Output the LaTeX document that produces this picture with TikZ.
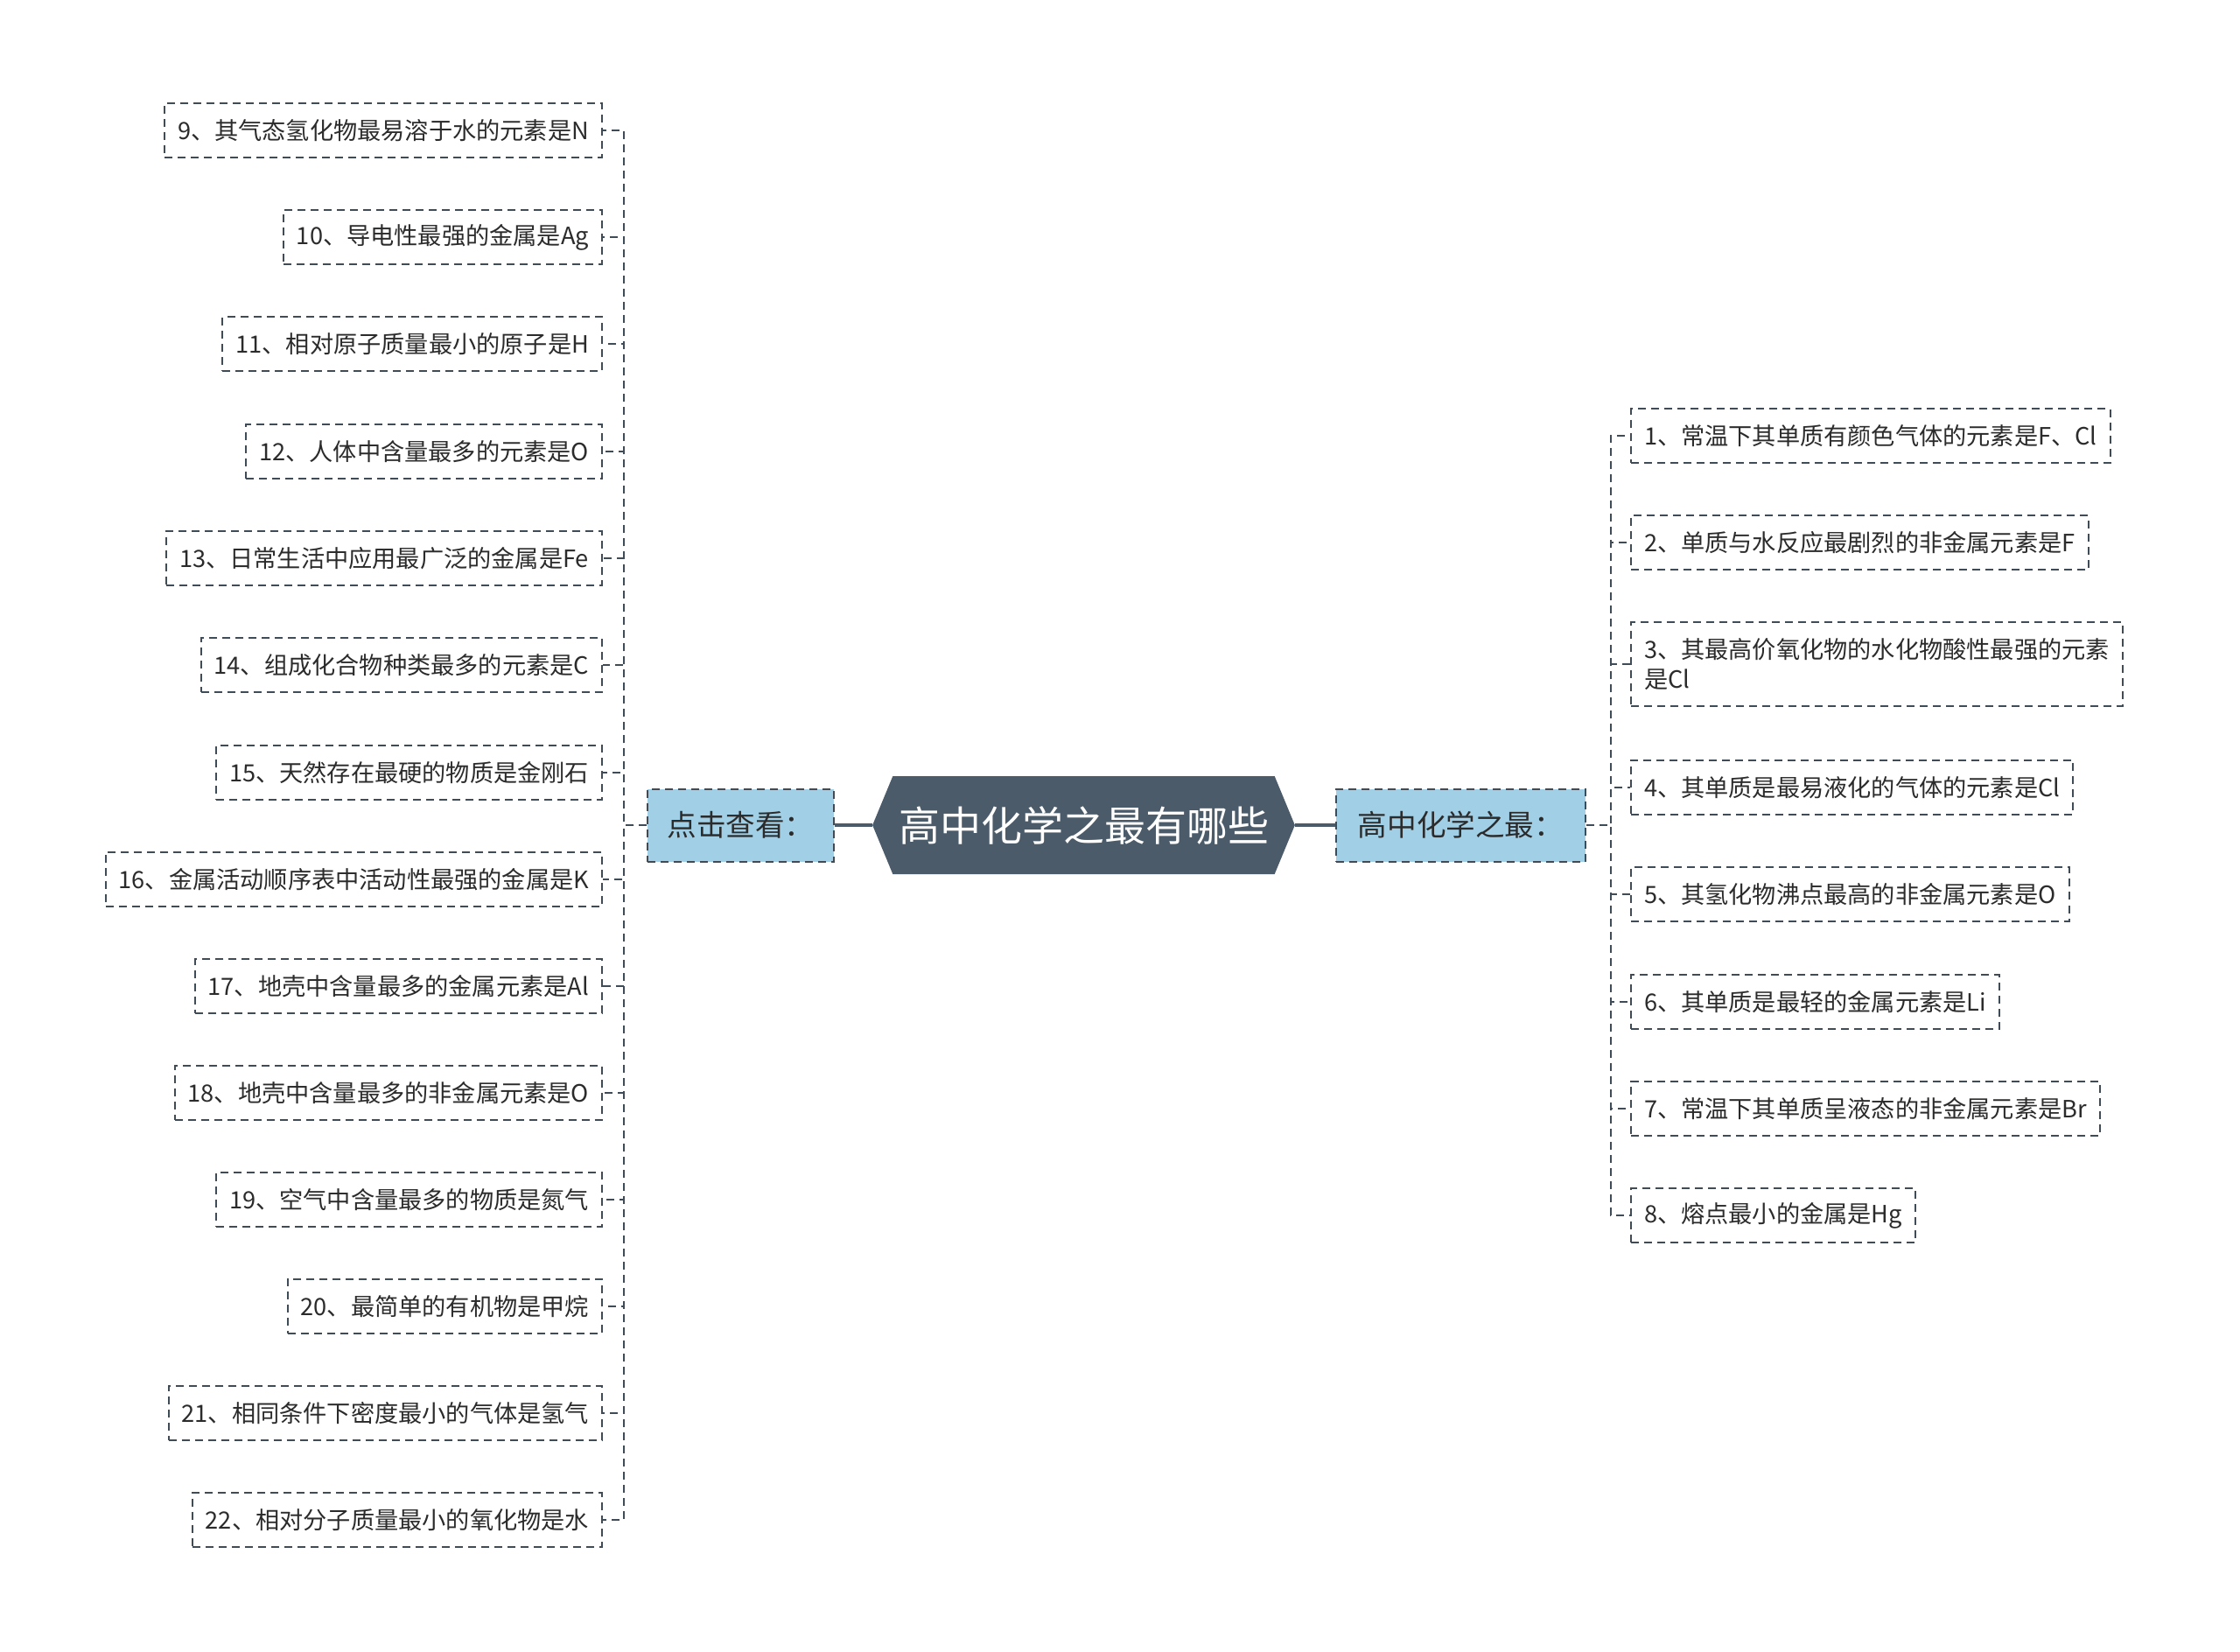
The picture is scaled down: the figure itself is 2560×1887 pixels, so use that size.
\documentclass[tikz,border=0pt]{standalone}
\usepackage{fontspec}
\setmainfont{Noto Sans CJK SC}
\usetikzlibrary{shapes.symbols}
\definecolor{rootgray}{HTML}{4B5B6A}
\definecolor{hubblue}{HTML}{A0CFE6}
\definecolor{linegray}{HTML}{3F4B57}
\definecolor{textgray}{HTML}{2B2B2B}

\tikzset{
  leaf/.style={draw=linegray,dash pattern=on 4.5pt off 3pt,line width=1pt,
    text=textgray,font=\fontsize{13.6pt}{17pt}\selectfont,
    inner xsep=7.5pt,minimum height=31pt,align=left},
  hub/.style={draw=linegray,dash pattern=on 4.5pt off 3pt,line width=1pt,
    fill=hubblue,text=textgray,font=\fontsize{16.8pt}{20pt}\selectfont,
    minimum height=41.5pt},
  conn/.style={draw=linegray,line width=1pt,dash pattern=on 4.5pt off 3pt},
  trunk/.style={draw=rootgray,line width=2pt}
}

\begin{document}
\begin{tikzpicture}[x=0.5pt,y=-0.5pt]
  \useasboundingbox (0,0) rectangle (2560,1887);

  \node[signal,signal to=east and west,signal pointer angle=135,
    fill=rootgray,text=white,minimum width=239.5pt,minimum height=56pt,
    font=\fontsize{23.5pt}{28pt}\selectfont] (root) at (1238.5,943) {高中化学之最有哪些};

  \node[hub,minimum width=106.5pt] (lhub) at (846.5,943) {点击查看：};
  \node[hub,minimum width=142.5pt] (rhub) at (1669.5,943) {高中化学之最：};

  \draw[trunk] (root.west) -- (lhub.east);
  \draw[trunk] (root.east) -- (rhub.west);

  % left branch
  \node[leaf,anchor=east] (l9)  at (689,149)  {9、其气态氢化物最易溶于水的元素是N};
  \node[leaf,anchor=east] (l10) at (689,271)  {10、导电性最强的金属是Ag};
  \node[leaf,anchor=east] (l11) at (689,393)  {11、相对原子质量最小的原子是H};
  \node[leaf,anchor=east] (l12) at (689,516)  {12、人体中含量最多的元素是O};
  \node[leaf,anchor=east] (l13) at (689,638)  {13、日常生活中应用最广泛的金属是Fe};
  \node[leaf,anchor=east] (l14) at (689,760)  {14、组成化合物种类最多的元素是C};
  \node[leaf,anchor=east] (l15) at (689,883)  {15、天然存在最硬的物质是金刚石};
  \node[leaf,anchor=east] (l16) at (689,1005) {16、金属活动顺序表中活动性最强的金属是K};
  \node[leaf,anchor=east] (l17) at (689,1127) {17、地壳中含量最多的金属元素是Al};
  \node[leaf,anchor=east] (l18) at (689,1249) {18、地壳中含量最多的非金属元素是O};
  \node[leaf,anchor=east] (l19) at (689,1371) {19、空气中含量最多的物质是氮气};
  \node[leaf,anchor=east] (l20) at (689,1493) {20、最简单的有机物是甲烷};
  \node[leaf,anchor=east] (l21) at (689,1615) {21、相同条件下密度最小的气体是氢气};
  \node[leaf,anchor=east] (l22) at (689,1737) {22、相对分子质量最小的氧化物是水};

  \draw[conn] (lhub.west) -- ++(-26,0) |- (l9.east);
  \draw[conn] (lhub.west) -- ++(-26,0) |- (l10.east);
  \draw[conn] (lhub.west) -- ++(-26,0) |- (l11.east);
  \draw[conn] (lhub.west) -- ++(-26,0) |- (l12.east);
  \draw[conn] (lhub.west) -- ++(-26,0) |- (l13.east);
  \draw[conn] (lhub.west) -- ++(-26,0) |- (l14.east);
  \draw[conn] (lhub.west) -- ++(-26,0) |- (l15.east);
  \draw[conn] (lhub.west) -- ++(-26,0) |- (l16.east);
  \draw[conn] (lhub.west) -- ++(-26,0) |- (l17.east);
  \draw[conn] (lhub.west) -- ++(-26,0) |- (l18.east);
  \draw[conn] (lhub.west) -- ++(-26,0) |- (l19.east);
  \draw[conn] (lhub.west) -- ++(-26,0) |- (l20.east);
  \draw[conn] (lhub.west) -- ++(-26,0) |- (l21.east);
  \draw[conn] (lhub.west) -- ++(-26,0) |- (l22.east);

  % right branch
  \node[leaf,anchor=west] (r1) at (1863,498)  {1、常温下其单质有颜色气体的元素是F、Cl};
  \node[leaf,anchor=west] (r2) at (1863,620)  {2、单质与水反应最剧烈的非金属元素是F};
  \node[leaf,anchor=west,minimum height=48pt] (r3) at (1863,759)
    {3、其最高价氧化物的水化物酸性最强的元素\\是Cl};
  \node[leaf,anchor=west] (r4) at (1863,900)  {4、其单质是最易液化的气体的元素是Cl};
  \node[leaf,anchor=west] (r5) at (1863,1022) {5、其氢化物沸点最高的非金属元素是O};
  \node[leaf,anchor=west] (r6) at (1863,1145) {6、其单质是最轻的金属元素是Li};
  \node[leaf,anchor=west] (r7) at (1863,1267) {7、常温下其单质呈液态的非金属元素是Br};
  \node[leaf,anchor=west] (r8) at (1863,1389) {8、熔点最小的金属是Hg};

  \draw[conn] (rhub.east) -- ++(28,0) |- (r1.west);
  \draw[conn] (rhub.east) -- ++(28,0) |- (r2.west);
  \draw[conn] (rhub.east) -- ++(28,0) |- (r3.west);
  \draw[conn] (rhub.east) -- ++(28,0) |- (r4.west);
  \draw[conn] (rhub.east) -- ++(28,0) |- (r5.west);
  \draw[conn] (rhub.east) -- ++(28,0) |- (r6.west);
  \draw[conn] (rhub.east) -- ++(28,0) |- (r7.west);
  \draw[conn] (rhub.east) -- ++(28,0) |- (r8.west);
\end{tikzpicture}
\end{document}
